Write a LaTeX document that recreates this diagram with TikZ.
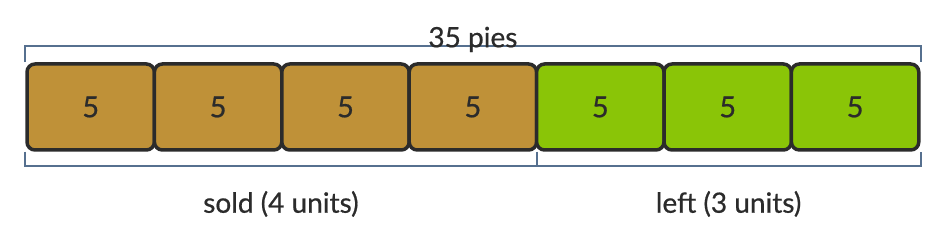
\documentclass[tikz,border=0pt]{standalone}
\usepackage{fontspec}
\setmainfont{Lato}[FakeBold=0.6]
\usetikzlibrary{positioning,calc}
\definecolor{soldfill}{HTML}{BF9138}
\definecolor{leftfill}{HTML}{8AC507}
\definecolor{edgegray}{HTML}{2B2B2B}
\definecolor{bracketblue}{HTML}{56708F}

\begin{document}
\begin{tikzpicture}[node distance=0pt, every node/.style={text=edgegray}]
\tikzset{unit/.style={draw=edgegray, line width=3.5pt, rounded corners=8pt, minimum width=127.4pt, minimum height=86pt, outer sep=0pt, inner sep=0pt, font=\fontsize{29}{34}\selectfont}}
\tikzset{brace/.style={draw=bracketblue, line width=2pt}}
\tikzset{label/.style={anchor=base, font=\fontsize{28}{33}\selectfont}}
\useasboundingbox (0,0) rectangle (948pt,241pt);
\node[unit, fill=soldfill] (u1) at (90.7pt,134pt) {5};
\node[unit, fill=soldfill, right=of u1] (u2) {5};
\node[unit, fill=soldfill, right=of u2] (u3) {5};
\node[unit, fill=soldfill, right=of u3] (u4) {5};
\node[unit, fill=leftfill, right=of u4] (u5) {5};
\node[unit, fill=leftfill, right=of u5] (u6) {5};
\node[unit, fill=leftfill, right=of u6] (u7) {5};
% brackets
\draw[brace] ([xshift=-1.75pt,yshift=1.75pt]u1.north west) -- ++(0,16pt) coordinate (tl) -| ([xshift=1.75pt,yshift=1.75pt]u7.north east) coordinate (tr);
\draw[brace] ([xshift=-1.75pt,yshift=-1.75pt]u1.south west) -- ++(0,-14pt) coordinate (bl) -| ([xshift=1.75pt,yshift=-1.75pt]u7.south east);
\draw[brace] ([yshift=-1.75pt]u4.south east) -- ++(0,-14pt) coordinate (bm);
\coordinate (br) at ([xshift=1.75pt]u7.east |- bl);
\node[label] (total) at ($(tl)!0.5!(br |- tl)+(0,-1pt)$) {35 pies};
\node[label] (sold) at ($(bl)!0.5!(bm)+(0,-47pt)$) {sold (4 units)};
\node[label] (left) at ($(bm)!0.5!(br)+(0,-47pt)$) {left (3 units)};
\end{tikzpicture}
\end{document}
